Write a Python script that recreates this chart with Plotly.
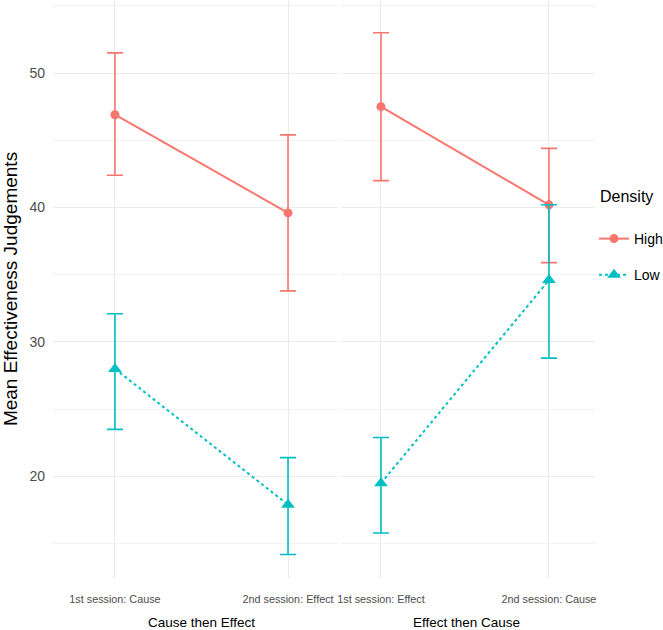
import plotly.graph_objects as go

# ---- data ----
panels = ["Cause then Effect", "Effect then Cause"]
sessions_p1 = ["1st session: Cause", "2nd session: Effect"]
sessions_p2 = ["1st session: Effect", "2nd session: Cause"]

high_mean_p1 = [46.9, 39.6]
high_lo_p1 = [42.4, 33.8]
high_hi_p1 = [51.5, 45.4]
low_mean_p1 = [28.0, 17.9]
low_lo_p1 = [23.5, 14.2]
low_hi_p1 = [32.1, 21.4]

high_mean_p2 = [47.5, 40.2]
high_lo_p2 = [42.0, 35.9]
high_hi_p2 = [53.0, 44.4]
low_mean_p2 = [19.5, 34.6]
low_lo_p2 = [15.8, 28.8]
low_hi_p2 = [22.9, 40.2]

y_ticks = [20, 30, 40, 50]
legend_title = "Density"

RED = "#F8766D"
TEAL = "#00BFC4"
SANS = "Liberation Sans, Arial, sans-serif"

fig = go.Figure()


def add(x, mean, lo, hi, color, dash, symbol, size, name, xa, show):
    fig.add_trace(go.Scatter(
        x=x, y=mean, mode="lines+markers", name=name, legendgroup=name,
        showlegend=show, xaxis=xa, yaxis="y",
        line=dict(color=color, width=2, dash=dash),
        marker=dict(color=color, symbol=symbol, size=size),
        error_y=dict(type="data", symmetric=False,
                     array=[h - m for h, m in zip(hi, mean)],
                     arrayminus=[m - l for m, l in zip(mean, lo)],
                     color=color, thickness=1.6, width=8),
    ))


add(sessions_p1, high_mean_p1, high_lo_p1, high_hi_p1, RED, "solid", "circle", 9, "High", "x", True)
add(sessions_p1, low_mean_p1, low_lo_p1, low_hi_p1, TEAL, "dot", "triangle-up", 12, "Low", "x", True)
add(sessions_p2, high_mean_p2, high_lo_p2, high_hi_p2, RED, "solid", "circle", 9, "High", "x2", False)
add(sessions_p2, low_mean_p2, low_lo_p2, low_hi_p2, TEAL, "dot", "triangle-up", 12, "Low", "x2", False)

W, H = 663, 630
L, R, T, B = 53, 68, 0, 52
pw = W - L - R
ph = H - T - B


def px_x(p):
    return (p - L) / pw


def px_y(p):
    return (H - B - p) / ph


grid = "#EBEBEB"
xcommon = dict(type="category", showgrid=True, gridcolor=grid, gridwidth=1.2,
               zeroline=False, showline=False, ticks="",
               tickfont=dict(family=SANS, size=10.8, color="#4D4D4D"),
               ticklabelstandoff=13, fixedrange=True)

fig.update_layout(
    width=W, height=H,
    margin=dict(l=L, r=R, t=T, b=B, autoexpand=False),
    paper_bgcolor="white", plot_bgcolor="white",
    xaxis=dict(domain=[0, px_x(337)], categoryorder="array", categoryarray=sessions_p1,
               range=[-0.358, 1.283], **xcommon),
    xaxis2=dict(domain=[px_x(341), 1], categoryorder="array", categoryarray=sessions_p2,
                range=[-0.238, 1.274], anchor="y", **xcommon),
    yaxis=dict(range=[12.45, 55.43], tickvals=y_ticks, showgrid=True, gridcolor=grid,
               gridwidth=1.2, zeroline=False, showline=False, ticks="",
               tickfont=dict(family=SANS, size=14, color="#4D4D4D"),
               ticklabelstandoff=7,
               minor=dict(tickvals=[15, 25, 35, 45, 55], showgrid=True,
                          gridcolor="#F2F2F2", gridwidth=1),
               title=dict(text="Mean Effectiveness Judgements",
                          font=dict(family=SANS, size=19, color="black"), standoff=8)),
    legend=dict(x=px_x(594), y=px_y(223), xanchor="left", yanchor="top",
                xref="paper", yref="paper",
                font=dict(family=SANS, size=14, color="black"),
                bgcolor="rgba(0,0,0,0)", itemwidth=30, tracegroupgap=15),
    showlegend=True,
)

fig.add_annotation(text=legend_title, xref="paper", yref="paper", x=px_x(598), y=px_y(196),
                   xanchor="left", yanchor="middle", showarrow=False,
                   font=dict(family=SANS, size=16, color="black"))

for i, name in enumerate(panels):
    cx = [201, 466][i]
    fig.add_annotation(text=name, xref="paper", yref="paper", x=px_x(cx), y=px_y(622),
                       xanchor="center", yanchor="middle", showarrow=False,
                       font=dict(family=SANS, size=13.5, color="black"))

fig.write_html("out.html")
